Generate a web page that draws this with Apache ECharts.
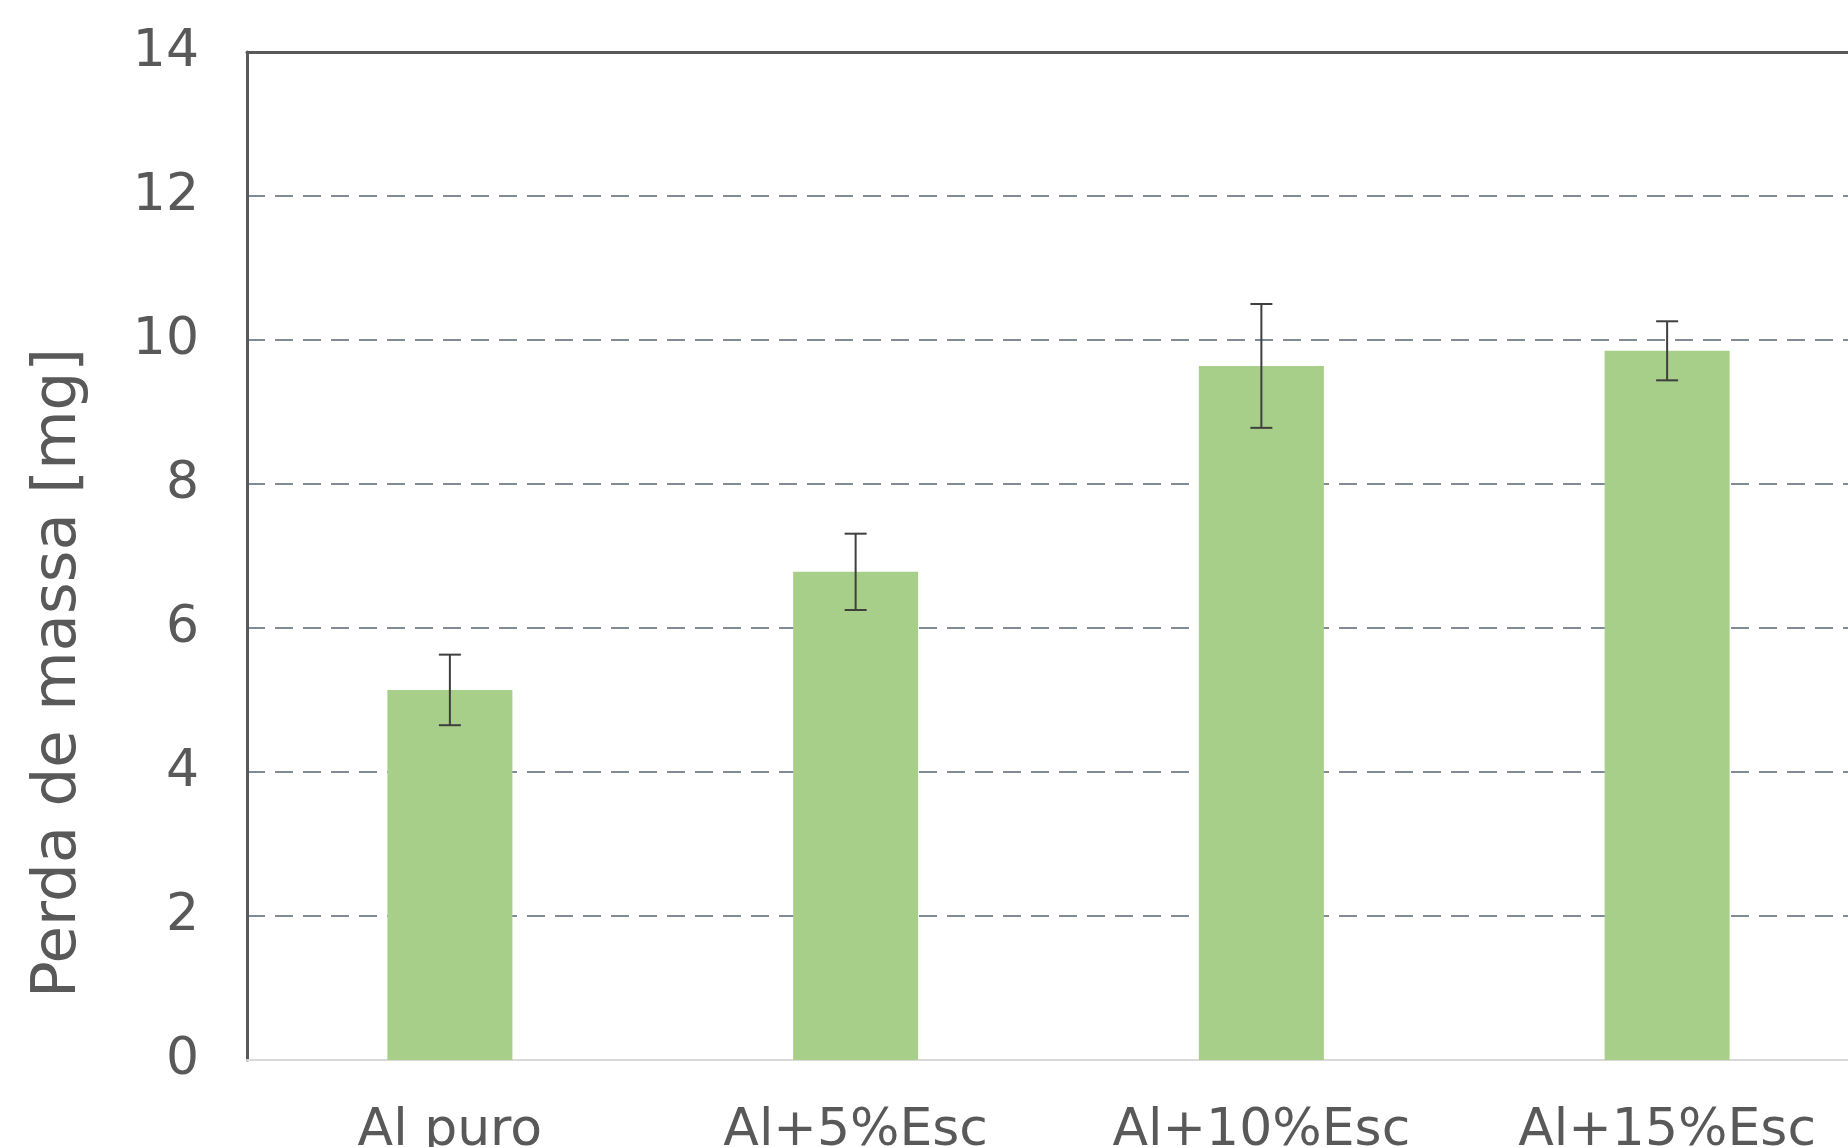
<!DOCTYPE html>
<html>
<head>
<meta charset="utf-8">
<script src="https://cdn.jsdelivr.net/npm/echarts@6/dist/echarts.min.js"></script>
<style>
  html, body { margin: 0; padding: 0; background: #ffffff; overflow: hidden; }
  #chart { width: 1848px; height: 1147px; }
</style>
</head>
<body>
<div id="chart"></div>
<script>
// Mass loss per alloy composition (mg), with standard deviation
const categories = ['Al puro', 'Al+5%Esc', 'Al+10%Esc', 'Al+15%Esc'];
const massLoss = [5.14, 6.78, 9.64, 9.85];
const massLossErr = [0.49, 0.53, 0.86, 0.41];
const yMin = 0, yMax = 14, yStep = 2;
const yTitle = 'Perda de massa [mg]';

const textColor = '#595959';
const fontFamily = '"DejaVu Sans", Verdana, sans-serif';

const chart = echarts.init(document.getElementById('chart'), null, { renderer: 'canvas' });

const errorData = categories.map((c, i) => [i, massLoss[i] - massLossErr[i], massLoss[i] + massLossErr[i]]);

// The plot area runs a little past the right edge of the canvas,
// and the category labels may be clipped at the bottom edge.
chart.setOption({
  backgroundColor: '#ffffff',
  animation: false,
  grid: {
    left: 247, top: 52, width: 1623, height: 1008,
    show: false,
    containLabel: false,
    outerBoundsMode: 'none'
  },
  xAxis: [
    {
      type: 'category',
      data: categories,
      position: 'bottom',
      axisLine: { show: true, lineStyle: { color: '#d9d9d9', width: 2 } },
      axisTick: { show: false },
      axisLabel: { color: textColor, fontSize: 52, fontFamily: fontFamily, margin: 45 }
    },
    {
      type: 'category',
      data: categories,
      position: 'top',
      axisLine: { show: true, lineStyle: { color: '#595959', width: 3 } },
      axisTick: { show: false },
      axisLabel: { show: false }
    }
  ],
  yAxis: {
    type: 'value',
    min: yMin,
    max: yMax,
    interval: yStep,
    axisLine: { show: true, lineStyle: { color: '#595959', width: 3 } },
    axisTick: { show: false },
    axisLabel: { color: textColor, fontSize: 52, fontFamily: fontFamily, margin: 48 },
    splitLine: {
      show: true,
      showMinLine: false,
      showMaxLine: false,
      lineStyle: { color: '#7d8c97', width: 2, type: [18, 10] }
    }
  },
  graphic: [
    {
      type: 'text',
      x: 59,
      y: 673,
      rotation: Math.PI / 2,
      style: {
        text: yTitle,
        fill: textColor,
        fontSize: 61,
        fontFamily: fontFamily,
        align: 'center',
        verticalAlign: 'middle'
      }
    }
  ],
  series: [
    {
      type: 'bar',
      data: massLoss,
      barWidth: 125,
      itemStyle: { color: '#a7cf89' },
      z: 2
    },
    {
      type: 'custom',
      data: errorData,
      z: 3,
      renderItem: function (params, api) {
        const i = api.value(0);
        const lo = api.coord([i, api.value(1)]);
        const hi = api.coord([i, api.value(2)]);
        const half = 11;
        const style = { stroke: '#3f3f3f', lineWidth: 2 };
        return {
          type: 'group',
          children: [
            { type: 'line', shape: { x1: lo[0], y1: lo[1], x2: hi[0], y2: hi[1] }, style: style },
            { type: 'line', shape: { x1: hi[0] - half, y1: hi[1], x2: hi[0] + half, y2: hi[1] }, style: style },
            { type: 'line', shape: { x1: lo[0] - half, y1: lo[1], x2: lo[0] + half, y2: lo[1] }, style: style }
          ]
        };
      }
    }
  ]
});
</script>
</body>
</html>
